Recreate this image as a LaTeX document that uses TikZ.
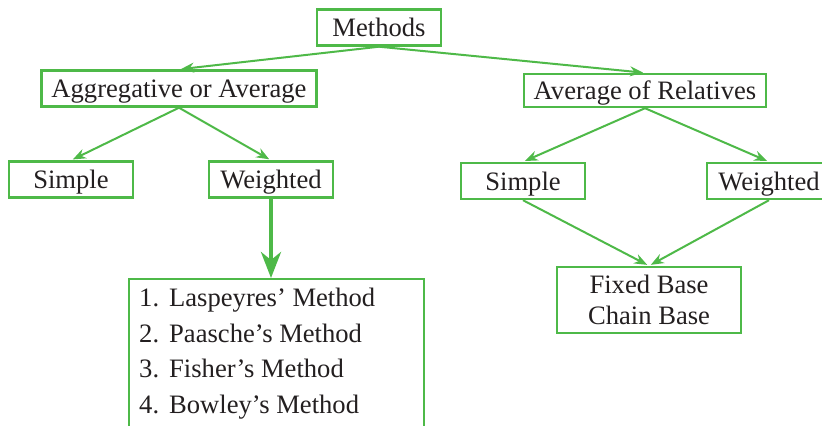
\documentclass[tikz,border=0pt]{standalone}
\usepackage{fontspec}
\setmainfont{Liberation Serif}
\usepackage{tikz}
\definecolor{leafgreen}{RGB}{78,185,72}
\definecolor{inkgray}{RGB}{35,31,32}
\usetikzlibrary{arrows.meta}

\begin{document}
\begin{tikzpicture}[
  x=0.5pt, y=-0.5pt,
  font=\fontsize{13.3}{15.5}\selectfont, text=inkgray,
  frame/.style={rectangle, draw=leafgreen, line width=1.2pt},
  box/.style={frame, minimum width=62pt, minimum height=18pt, inner xsep=5pt, text height=9pt, text depth=0pt},
  listbox/.style={frame, anchor=north west, inner xsep=5pt, inner ysep=1pt, font=\fontsize{13.3}{17.9}\selectfont},
  arr/.style={-{Stealth[length=6.5pt,width=5pt]}, line width=1pt, leafgreen, shorten >=1pt},
  bigarr/.style={-{Stealth[length=13pt,width=10pt,inset=4pt]}, line width=2pt, leafgreen}
]
  \clip (0,0) rectangle (822,425);
  \node[box] (methods) at (379,27.5) {Methods};
  \node[box] (aggr) at (179,88.5) {Aggregative or Average};
  \node[box, minimum height=16.5pt] (relat) at (645,90.5) {Average of Relatives};
  \node[box] (simpA) at (71,179.5) {Simple};
  \node[box] (wtA) at (271,179.5) {Weighted};
  \node[box] (simpR) at (523,181) {Simple};
  \node[box] (wtR) at (769,181) {Weighted};
  \node[listbox] (list) at (128,278) {\begin{tabular}{@{}p{15pt}@{}p{122.5pt}@{}}
    1. & Laspeyres’ Method\\
    2. & Paasche’s Method\\
    3. & Fisher’s Method\\
    4. & Bowley’s Method\rule[-8pt]{0pt}{8pt}
  \end{tabular}};
  \node[frame, align=center, minimum width=92pt, minimum height=33pt] (base) at (649,300) {Fixed Base\\Chain Base};

  \draw[arr] (methods.south) -- (aggr.north);
  \draw[arr] (methods.south) -- (relat.north);
  \draw[arr] (aggr.south) -- (simpA.north);
  \draw[arr] (aggr.south) -- (wtA.north);
  \draw[arr] (relat.south) -- (simpR.north);
  \draw[arr] (relat.south) -- (wtR.north);
  \draw[arr] (simpR.south) -- (base.north);
  \draw[arr] (wtR.south) -- (base.north);
  \draw[bigarr] (wtA.south) -- (wtA.south |- list.north);
\end{tikzpicture}
\end{document}
